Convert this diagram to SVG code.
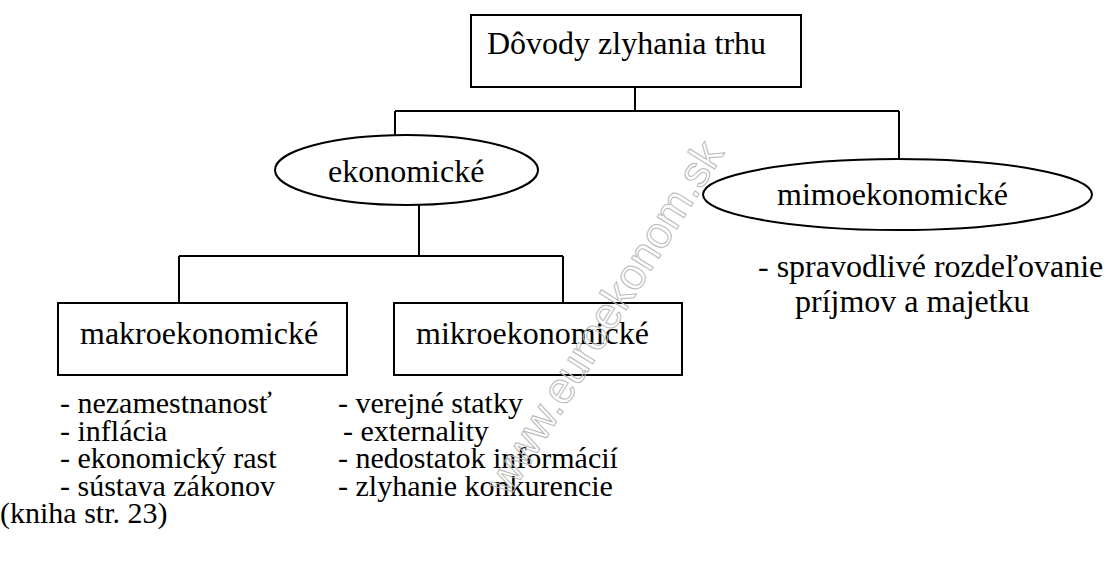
<svg xmlns="http://www.w3.org/2000/svg" width="1118" height="585" viewBox="0 0 1118 585">
<style>
.box{fill:#fff;stroke:#000;stroke-width:2}
.ell{fill:#fff;stroke:#000;stroke-width:2}
.conn{fill:none;stroke:#000;stroke-width:2}
.t{font-family:'Liberation Serif','Times New Roman','DejaVu Serif','Noto Serif',serif;font-size:32px;fill:#000}
.l{font-family:'Liberation Serif','Times New Roman','DejaVu Serif','Noto Serif',serif;font-size:30px;fill:#000}
.wm{font-family:'Liberation Sans','DejaVu Sans',sans-serif;font-size:44px;fill:none;stroke:#b8b8b8;stroke-width:1}
</style>
<rect width="1118" height="585" fill="#fff"/>
<g id="connectors">
<path class="conn" d="M635,87 V111 M395,111 H899 M395,111 V135 M899,111 V159"/>
<path class="conn" d="M419,205 V256 M179,256 H563 M179,256 V303 M563,256 V303"/>
</g>
<g id="root">
<rect class="box" x="471" y="15" width="330" height="72"/>
<text class="t" x="487" y="54">Dôvody zlyhania trhu</text>
</g>
<g id="ekonomicke">
<ellipse class="ell" cx="406.5" cy="170" rx="131.5" ry="35"/>
<text class="t" x="328" y="182">ekonomické</text>
</g>
<g id="mimoekonomicke">
<ellipse class="ell" cx="897.5" cy="194.5" rx="194.5" ry="35.5"/>
<text class="t" x="777" y="205">mimoekonomické</text>
</g>
<g id="makroekonomicke">
<rect class="box" x="58" y="303" width="289" height="72"/>
<text class="t" x="80" y="344">makroekonomické</text>
</g>
<g id="mikroekonomicke">
<rect class="box" x="394" y="303" width="288" height="72"/>
<text class="t" x="416" y="344">mikroekonomické</text>
</g>
<g id="mimo-list">
<text class="t" x="758" y="277">- spravodlivé rozdeľovanie</text>
<text class="t" x="795" y="312">príjmov a majetku</text>
</g>
<g id="makro-list">
<text class="l" x="60" y="413">- nezamestnanosť</text>
<text class="l" x="60" y="441">- inflácia</text>
<text class="l" x="60" y="468">- ekonomický rast</text>
<text class="l" x="60" y="496">- sústava zákonov</text>
</g>
<g id="mikro-list">
<text class="l" x="338" y="413">- verejné statky</text>
<text class="l" x="343" y="441">- externality</text>
<text class="l" x="338" y="468">- nedostatok informácií</text>
<text class="l" x="338" y="496">- zlyhanie konkurencie</text>
</g>
<g id="note">
<text class="l" x="0" y="523">(kniha str. 23)</text>
</g>
<g id="watermark">
<text class="wm" x="0" y="0" text-anchor="middle" transform="translate(617,325) rotate(-58)">www.euroekonom.sk</text>
</g>
</svg>
